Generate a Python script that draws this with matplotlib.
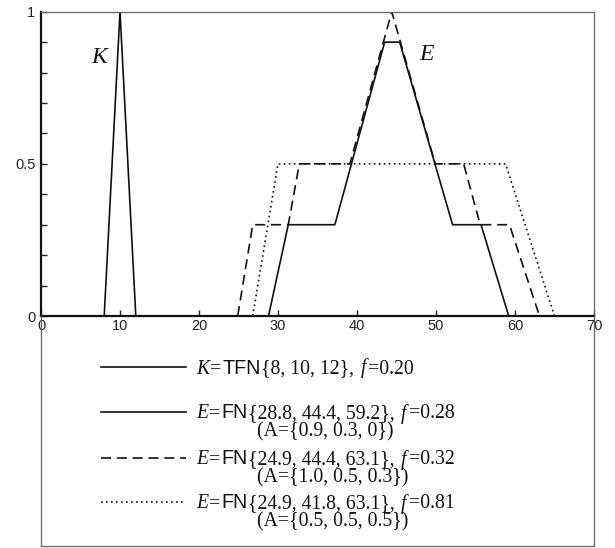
import matplotlib
matplotlib.use("Agg")
import matplotlib.pyplot as plt
import numpy as np

# ---- data ----
k_x = [8, 10, 12]
k_y = [0, 1, 0]

e1_x = [28.8, 31.3, 37.2, 43.5, 45.4, 52.1, 55.7, 59.2]
e1_y = [0, 0.3, 0.3, 0.9, 0.9, 0.3, 0.3, 0]

e2_x = [24.9, 26.8, 31.3, 32.7, 39.1, 44.4, 49.9, 53.5, 55.6, 59.3, 63.1]
e2_y = [0, 0.3, 0.3, 0.5, 0.5, 1.0, 0.5, 0.5, 0.3, 0.3, 0]

e3_x = [26.8, 30.0, 58.8, 65.0]
e3_y = [0, 0.5, 0.5, 0]

x_ticks = [0, 10, 20, 30, 40, 50, 60, 70]
x_ticklabels = ['0', '10', '20', '30', '40', '50', '60', '70']
y_ticks = [0, 0.1, 0.2, 0.3, 0.4, 0.5, 0.6, 0.7, 0.8, 0.9, 1.0]
y_ticklabels = ['0', '', '', '', '', '0.5', '', '', '', '', '1']

legend_names = ['K', 'E', 'E', 'E']
legend_types = ['TFN', 'FN', 'FN', 'FN']
legend_params = ['{8, 10, 12},', '{28.8, 44.4, 59.2},', '{24.9, 44.4, 63.1},',
                 '{24.9, 41.8, 63.1},']
legend_f = ['=0.20', '=0.28', '=0.32', '=0.81']
legend_sub = ['', '(A={0.9, 0.3, 0})', '(A={1.0, 0.5, 0.3})', '(A={0.5, 0.5, 0.5})']

# ---- figure ----
W, H = 615, 548
fig = plt.figure(figsize=(W / 100, H / 100), dpi=100)
L, R, B, T = 41, 594, 316, 11.7
ax = fig.add_axes([L / W, 1 - B / H, (R - L) / W, (B - T) / H])

lw = 1.2
col = '#111111'
dash = (0, (6, 3.5))
dot = (0, (1, 2))
ax.plot(k_x, k_y, color=col, lw=lw, solid_joinstyle='miter')
ax.plot(e1_x, e1_y, color=col, lw=lw)
ax.plot(e2_x, e2_y, color=col, lw=lw, linestyle=dash)
ax.plot(e3_x, e3_y, color=col, lw=lw, linestyle=dot)

ax.set_xlim(0, 70)
ax.set_ylim(0, 1)
ax.set_xticks(x_ticks)
ax.set_xticklabels(x_ticklabels)
ax.set_yticks(y_ticks)
ax.set_yticklabels(y_ticklabels)
ax.tick_params(direction='in', length=4, width=1, colors='#222222',
               labelsize=10.5, labelcolor='#222222')
ax.tick_params(axis='x', pad=2)
ax.tick_params(axis='y', pad=4)
for lab in ax.get_xticklabels() + ax.get_yticklabels():
    lab.set_fontfamily('Liberation Sans')

for s in ['left', 'bottom']:
    ax.spines[s].set_linewidth(1.6)
    ax.spines[s].set_color('#111111')
for s in ['top', 'right']:
    ax.spines[s].set_linewidth(0.9)
    ax.spines[s].set_color('#666666')

ax.text(7.4, 0.85, 'K', fontsize=17, family='Liberation Serif', style='italic',
        ha='center', va='center', color=col)
ax.text(48.8, 0.86, 'E', fontsize=17, family='Liberation Serif', style='italic',
        ha='center', va='center', color=col)

# ---- legend box ----
lb = 546
lax = fig.add_axes([L / W, 1 - lb / H, (R - L) / W, (lb - B) / H])
lax.set_xlim(L, R)
lax.set_ylim(lb, B)
lax.set_xticks([])
lax.set_yticks([])
lax.patch.set_alpha(0)
lax.spines['top'].set_visible(False)
for s in ['left', 'right', 'bottom']:
    lax.spines[s].set_linewidth(0.9)
    lax.spines[s].set_color('#666666')

renderer = fig.canvas.get_renderer()
fs = 14.2
space_px = 0.25 * fs * 100 / 72
SERIF, SANS = 'Liberation Serif', 'Liberation Sans'


def draw_segments(x, ybase, segs):
    for txt, fam, sty, gap in segs:
        if txt == ' ':
            x += space_px
            continue
        t = lax.text(x, ybase, txt, fontsize=fs, family=fam, style=sty,
                     ha='left', va='baseline', color=col)
        bb = t.get_window_extent(renderer)
        x += bb.width + gap
    return x


styles = ['-', '-', dash, dot]
ys = [367, 412, 458, 502]
for i, (st, yy) in enumerate(zip(styles, ys)):
    lax.plot([101, 186], [yy, yy], color=col, lw=lw, linestyle=st)
    segs = [
        (legend_names[i], SERIF, 'italic', 0.5),
        ('=', SERIF, 'normal', 1.2),
        (legend_types[i], SANS, 'normal', 0.2),
        (legend_params[i], SERIF, 'normal', 2.0),
        (' ', None, None, 0),
        ('f', SERIF, 'italic', 2.2),
        (legend_f[i], SERIF, 'normal', 0),
    ]
    draw_segments(196, yy + 6.5, segs)
    if legend_sub[i]:
        lax.text(257, yy + 24, legend_sub[i], fontsize=fs, family=SERIF,
                 ha='left', va='baseline', color=col)

fig.savefig('out.png', dpi=100)
